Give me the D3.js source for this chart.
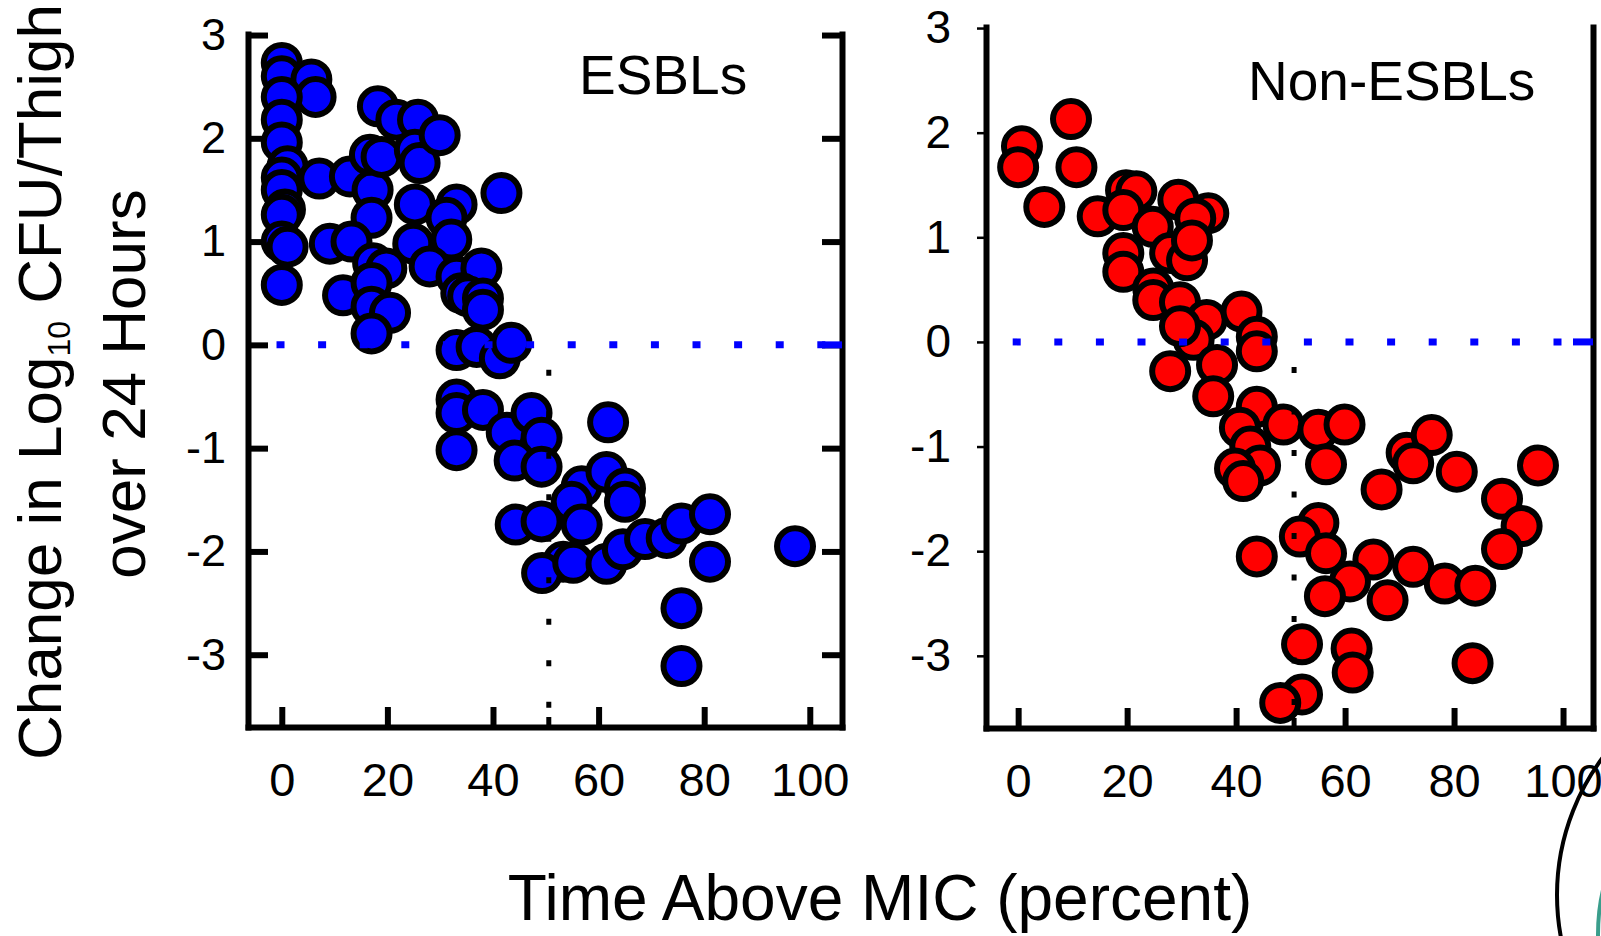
<!DOCTYPE html>
<html>
<head>
<meta charset="utf-8">
<script src="https://cdn.jsdelivr.net/npm/d3@7"></script>
<style>
    body { margin: 0; background: #fff; }
    svg { display: block; font-family: "Liberation Sans", Arial, sans-serif; }
    .axis path, .axis line { stroke: #000; }
    .axis text { fill: #000; }
</style>
</head>
<body>
<div id="chart"></div>
<script>
// Time above MIC (%) vs change in log10 CFU/thigh
var esblTime = [0, 0, 5.6, 6.4, 0, 0, 0, 1.1, 0, 0, 0.6, 0, 0, 1.1, 0, 7.1, 12.9, 17.2, 18.2, 16.7,
    18.9, 21.7, 25.8, 25.2, 26.1, 29.9, 17.0, 25.2, 33.1, 31.2, 41.6, 9.1, 13.2, 24.9, 32.1, 17.3,
    19.8, 28.0, 33.1, 37.8, 34.0, 35.3, 38.1, 38.1, 11.6, 17.0, 17.0, 20.5, 17.0, 33.1, 36.9, 41.3,
    43.5, 33.1, 33.1, 38.1, 42.6, 47.3, 49.2, 33.1, 44.1, 49.2, 56.8, 54.9, 56.8, 44.3, 49.2, 53.3,
    49.3, 55.2, 61.8, 61.5, 65.0, 65.0, 61.5, 64.6, 68.8, 72.9, 75.7, 81.1, 81.1, 75.7, 75.7, 97.2];
var esblChange = [2.73, 2.60, 2.57, 2.40, 2.40, 2.18, 1.96, 1.73, 1.62, 1.50, 1.31, 1.26, 1.00, 0.95,
    0.58, 1.61, 1.63, 1.50, 2.31, 1.84, 1.82, 2.18, 2.18, 1.89, 1.76, 2.03, 1.23, 1.36, 1.36, 1.23,
    1.47, 0.98, 1.00, 0.98, 1.02, 0.79, 0.74, 0.76, 0.66, 0.74, 0.50, 0.47, 0.45, 0.34, 0.48, 0.60,
    0.37, 0.31, 0.11, -0.05, -0.02, -0.13, 0.02, -0.53, -0.66, -0.63, -0.85, -0.66, -0.90, -1.02,
    -1.12, -1.18, -1.37, -1.52, -1.74, -1.74, -1.71, -2.10, -2.21, -2.11, -0.75, -1.23, -1.39, -1.52,
    -2.12, -1.98, -1.88, -1.87, -1.73, -1.64, -2.10, -2.55, -3.11, -1.95];

var nonEsblTime = [0.7, 0, 9.7, 10.7, 4.8, 14.6, 19.8, 21.7, 19.3, 29.4, 34.9, 32.5, 24.7, 19.3, 27.9,
    31.0, 31.9, 19.3, 24.8, 24.8, 29.7, 34.6, 41.0, 43.8, 43.8, 32.2, 29.7, 27.9, 36.5, 35.8, 43.8,
    48.7, 40.7, 42.6, 44.4, 39.8, 41.3, 55.1, 59.9, 56.5, 66.7, 71.3, 75.9, 72.5, 80.5, 95.4, 88.8,
    92.4, 88.8, 55.1, 51.7, 56.5, 43.8, 65.2, 60.9, 56.3, 67.8, 72.5, 78.3, 83.9, 52.1, 61.2, 61.4,
    83.4, 52.1, 48.1];
var nonEsblChange = [1.87, 1.67, 2.13, 1.67, 1.29, 1.20, 1.45, 1.44, 1.26, 1.36, 1.23, 1.18, 1.10,
    0.85, 0.85, 0.78, 0.97, 0.67, 0.51, 0.40, 0.38, 0.21, 0.29, 0.05, -0.09, 0.02, 0.15, -0.28, -0.22,
    -0.52, -0.62, -0.79, -0.82, -1.00, -1.18, -1.21, -1.33, -0.84, -0.79, -1.17, -1.41, -1.06, -0.89,
    -1.16, -1.24, -1.18, -1.50, -1.76, -1.98, -1.73, -1.86, -2.02, -2.05, -2.08, -2.29, -2.43, -2.47,
    -2.15, -2.31, -2.33, -2.89, -2.93, -3.16, -3.07, -3.37, -3.45];

var xTicks = [0, 20, 40, 60, 80, 100];
var yTicks = [3, 2, 1, 0, -1, -2, -3];
var panelTitles = ["ESBLs", "Non-ESBLs"];

var width = 1601, height = 936;

var svg = d3.select("#chart").append("svg")
    .attr("width", width)
    .attr("height", height);

// plain hyphen for negatives, like the original
var plainFormat = function (d) { return String(d); };

var panels = [
    {
        x: d3.scaleLinear().domain([-6.4, 106.1]).range([248, 842]),
        y: d3.scaleLinear().domain([3.01, -3.70]).range([34, 727]),
        time: esblTime, change: esblChange, fill: "#0000ff",
        title: panelTitles[0], titleX: 579, titleY: 94,
        yFont: 45, yTickIn: true, rightTicks: true, cutNudge: 3
    },
    {
        x: d3.scaleLinear().domain([-5.9, 105.5]).range([986, 1593]),
        y: d3.scaleLinear().domain([3.01, -3.69]).range([27, 728]),
        time: nonEsblTime, change: nonEsblChange, fill: "#ff0000",
        title: panelTitles[1], titleX: 1248, titleY: 100,
        yFont: 46, yTickIn: false, rightTicks: false, cutNudge: 3.5
    }
];

function drawPanel(p) {
    var g = svg.append("g");
    var x0 = p.x.range()[0], x1 = p.x.range()[1];
    var yBottom = p.y.range()[1];

    // left axis
    var yAxis = d3.axisLeft(p.y).tickValues(yTicks).tickFormat(plainFormat).tickSizeOuter(0);
    if (p.yTickIn) {
        yAxis.tickSizeInner(-20).tickPadding(22);
    } else {
        yAxis.tickSizeInner(9).tickPadding(26);
    }
    var ya = g.append("g").attr("class", "axis")
        .attr("transform", "translate(" + x0 + ",0)")
        .call(yAxis);
    ya.select(".domain").style("stroke-width", 6).style("stroke-linecap", "square");
    ya.selectAll(".tick line").style("stroke-width", p.yTickIn ? 6 : 2.5);
    ya.selectAll("text").style("font-size", p.yFont + "px");

    // right axis
    var rAxis = d3.axisRight(p.y).tickSizeOuter(0).tickFormat("");
    if (p.rightTicks) {
        rAxis.tickValues(yTicks).tickSizeInner(-20);
    } else {
        rAxis.tickValues([]);
    }
    var ra = g.append("g").attr("class", "axis")
        .attr("transform", "translate(" + x1 + ",0)")
        .call(rAxis);
    ra.select(".domain").style("stroke-width", 6).style("stroke-linecap", "square");
    ra.selectAll(".tick line").style("stroke-width", 6);

    // bottom axis
    var xAxis = d3.axisBottom(p.x).tickValues(xTicks).tickFormat(plainFormat).tickSizeOuter(0)
        .tickSizeInner(-20).tickPadding(36);
    var xa = g.append("g").attr("class", "axis")
        .attr("transform", "translate(0," + yBottom + ")")
        .call(xAxis);
    xa.select(".domain").style("stroke-width", 6).style("stroke-linecap", "square");
    xa.selectAll(".tick line").style("stroke-width", 6);
    xa.selectAll("text").style("font-size", "47px");

    // points
    g.append("g")
        .selectAll(".mark")
        .data(p.time.map(function (t, i) { return [t, p.change[i]]; }))
        .enter().append("circle")
        .attr("class", "mark")
        .attr("cx", function (d) { return p.x(d[0]); })
        .attr("cy", function (d) { return p.y(d[1]); })
        .attr("r", 18)
        .style("fill", p.fill)
        .style("stroke", "#000")
        .style("stroke-width", 6);

    // reference lines: zero change and 50% time above MIC
    var y0 = p.y(0);
    g.append("line")
        .attr("x1", p.x(-1)).attr("x2", x1 - 16)
        .attr("y1", y0).attr("y2", y0)
        .style("stroke", "#0000ff").style("stroke-width", 7)
        .style("stroke-dasharray", "8,33.6");
    g.append("line")
        .attr("x1", x1 - 20).attr("x2", x1)
        .attr("y1", y0).attr("y2", y0)
        .style("stroke", "#0000ff").style("stroke-width", 7);

    var x50 = p.x(50) + p.cutNudge;
    g.append("line")
        .attr("x1", x50).attr("x2", x50)
        .attr("y1", y0 + 25).attr("y2", yBottom)
        .style("stroke", "#000").style("stroke-width", 5)
        .style("stroke-dasharray", "6,35.5");
    g.append("line")
        .attr("x1", x50).attr("x2", x50)
        .attr("y1", yBottom - 10).attr("y2", yBottom)
        .style("stroke", "#000").style("stroke-width", 5);

    g.append("text")
        .attr("x", p.titleX).attr("y", p.titleY)
        .style("font-size", "55px")
        .text(p.title);
}

panels.forEach(drawPanel);

// axis titles
var yTitle = svg.append("g").style("font-size", "62px");
var line1 = yTitle.append("text")
    .attr("transform", "translate(61,382)rotate(-90)")
    .attr("text-anchor", "middle");
line1.append("tspan").text("Change in Log");
line1.append("tspan").attr("dy", 9).style("font-size", "32px").text("10");
line1.append("tspan").attr("dy", -9).text(" CFU/Thigh");
yTitle.append("text")
    .attr("transform", "translate(145,384)rotate(-90)")
    .attr("text-anchor", "middle")
    .text("over 24 Hours");

svg.append("text")
    .attr("x", 880).attr("y", 920)
    .attr("text-anchor", "middle")
    .style("font-size", "64px")
    .text("Time Above MIC (percent)");

// edge of the logo in the bottom right corner
svg.append("circle")
    .attr("cx", 1786).attr("cy", 895).attr("r", 229)
    .style("fill", "none").style("stroke", "#000").style("stroke-width", 4);
svg.append("ellipse")
    .attr("cx", 1646).attr("cy", 935).attr("rx", 48).attr("ry", 100)
    .style("fill", "none").style("stroke", "#3a9e8c").style("stroke-width", 4);
</script>
</body>
</html>
